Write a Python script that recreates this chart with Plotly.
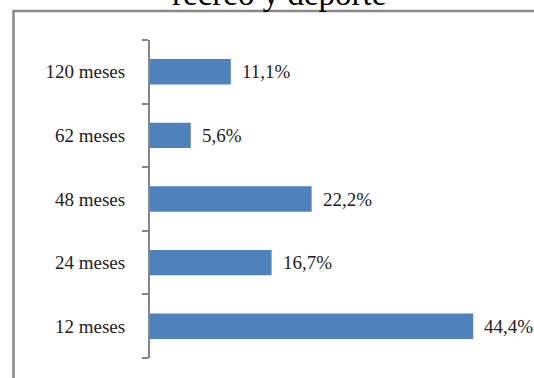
import plotly.graph_objects as go

# Duración en meses y porcentaje de respuestas
categorias = ["12 meses", "24 meses", "48 meses", "62 meses", "120 meses"]
porcentajes = [44.4, 16.7, 22.2, 5.6, 11.1]
titulo = "recreo y deporte"

W, H = 534, 378
L, R, T, B = 150, 20, 40, 20
pw, ph = W - L - R, H - T - B


def px_x(p):
    return (p - L) / pw


def px_y(p):
    return (H - B - p) / ph


serif = "Liberation Serif"

fig = go.Figure(
    go.Bar(
        x=porcentajes,
        y=categorias,
        orientation="h",
        width=0.4,
        marker=dict(color="#4F81BD", line=dict(width=0)),
        hoverinfo="skip",
    )
)

# Etiquetas de valor a la derecha de cada barra
for c, v in zip(categorias, porcentajes):
    fig.add_annotation(
        x=v, y=c, xref="x", yref="y",
        text=f"{v:.1f}%".replace(".", ","),
        showarrow=False, xanchor="left", yanchor="middle", xshift=9,
        font=dict(family=serif, size=19, color="#222"),
    )

# Última línea del título (parcialmente fuera del lienzo)
fig.add_annotation(
    x=px_x(279), y=px_y(14), xref="paper", yref="paper",
    text=titulo, showarrow=False, xanchor="center", yanchor="bottom",
    font=dict(family=serif, size=33, color="#000"),
)

# Marco exterior gris
fig.add_shape(
    type="rect", xref="paper", yref="paper",
    x0=px_x(13.5), x1=px_x(560), y0=px_y(400), y1=px_y(11),
    line=dict(color="#888888", width=2.5), fillcolor="rgba(0,0,0,0)",
    layer="above",
)

fig.update_layout(
    width=W, height=H,
    margin=dict(l=L, r=R, t=T, b=B),
    paper_bgcolor="white", plot_bgcolor="white",
    showlegend=False,
    bargap=0.6,
    xaxis=dict(range=[0, 50], visible=False, fixedrange=True),
    yaxis=dict(
        type="category",
        showline=True, linecolor="#868686", linewidth=2,
        ticks="outside", tickson="boundaries", ticklen=6,
        tickcolor="#868686", tickwidth=2,
        showgrid=False, zeroline=False,
        tickfont=dict(family=serif, size=19, color="#222"),
        ticklabelstandoff=19,
    ),
)

fig.write_html("out.html")
